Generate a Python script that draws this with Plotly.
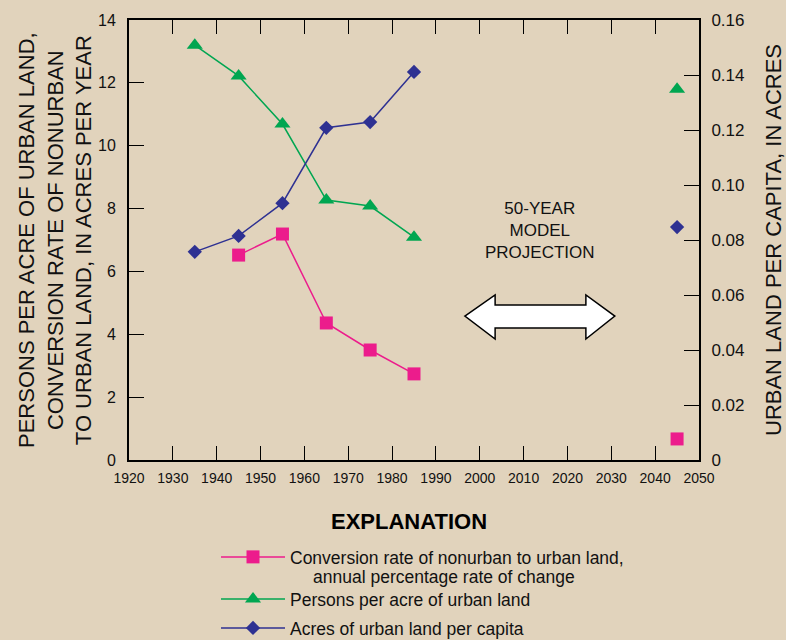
import plotly.graph_objects as go

# ---- data ----
years = [1935, 1945, 1955, 1965, 1975, 1985]
proj_year = [2045]
conversion_rate = [None, 6.52, 7.19, 4.36, 3.50, 2.74]
conversion_proj = [0.67]
persons_per_acre = [13.2, 12.22, 10.69, 8.27, 8.08, 7.09]
persons_proj = [11.8]
acres_per_capita = [0.0757, 0.0815, 0.0934, 0.1208, 0.1229, 0.1411]
acres_proj = [0.0847]

x_ticks = list(range(1920, 2051, 10))
left_ticks = [0, 2, 4, 6, 8, 10, 12, 14]
right_ticks = [0, 0.02, 0.04, 0.06, 0.08, 0.10, 0.12, 0.14, 0.16]
right_labels = ["0", "0.02", "0.04", "0.06", "0.08", "0.10", "0.12", "0.14", "0.16"]

PINK = "#EC1C8C"
GREEN = "#00A651"
BLUE = "#2E3192"
BG = "#E1D3BC"
FONT = "Liberation Sans, Arial, sans-serif"
W, H = 786, 640
L, R, T, B = 129, 87, 20, 180
PW, PH = W - L - R, H - T - B


def px(xp):
    return (xp - L) / PW


def py(yp):
    return (H - B - yp) / PH


fig = go.Figure()

fig.add_trace(go.Scatter(
    x=years, y=conversion_rate, mode="lines+markers",
    name="Conversion rate of nonurban to urban land,",
    line=dict(color=PINK, width=1.5),
    marker=dict(symbol="square", size=13, color=PINK),
    legend="legend"))
fig.add_trace(go.Scatter(
    x=proj_year, y=conversion_proj, mode="markers", showlegend=False,
    marker=dict(symbol="square", size=13, color=PINK)))

fig.add_trace(go.Scatter(
    x=years, y=persons_per_acre, mode="lines+markers",
    name="Persons per acre of urban land",
    line=dict(color=GREEN, width=1.5),
    marker=dict(symbol="triangle-up", size=14, color=GREEN),
    legend="legend2"))
fig.add_trace(go.Scatter(
    x=proj_year, y=persons_proj, mode="markers", showlegend=False,
    marker=dict(symbol="triangle-up", size=14, color=GREEN)))

fig.add_trace(go.Scatter(
    x=years, y=acres_per_capita, mode="lines+markers", yaxis="y2",
    name="Acres of urban land per capita",
    line=dict(color=BLUE, width=1.5),
    marker=dict(symbol="diamond", size=11, color=BLUE),
    legend="legend3"))
fig.add_trace(go.Scatter(
    x=proj_year, y=acres_proj, mode="markers", yaxis="y2", showlegend=False,
    marker=dict(symbol="diamond", size=11, color=BLUE)))

# double-headed arrow (projection period)
arrow_path = ("M 1996.6,4.58 L 2003.5,5.25 L 2003.5,4.93 L 2024.2,4.93 "
              "L 2024.2,5.25 L 2030.8,4.58 L 2024.2,3.85 L 2024.2,4.20 "
              "L 2003.5,4.20 L 2003.5,3.85 Z")
fig.add_shape(type="path", path=arrow_path, xref="x", yref="y",
              fillcolor="white", line=dict(color="black", width=1.5))

fig.add_annotation(x=2013.7, y=7.29, xref="x", yref="y",
                   text="50-YEAR<br>MODEL<br>PROJECTION", showarrow=False,
                   font=dict(family=FONT, size=17, color="#111"))

# axis titles
fig.add_annotation(x=px(55), y=0.5, xref="paper", yref="paper", textangle=-90,
                   xanchor="center", yanchor="middle",
                   text="PERSONS PER ACRE OF URBAN LAND,<br>CONVERSION RATE OF NONURBAN<br>TO URBAN LAND, IN ACRES PER YEAR",
                   showarrow=False, font=dict(family=FONT, size=22, color="#111"))
fig.add_annotation(x=px(773), y=0.5, xref="paper", yref="paper", textangle=-90,
                   xanchor="center", yanchor="middle",
                   text="URBAN LAND PER CAPITA, IN ACRES",
                   showarrow=False, font=dict(family=FONT, size=22, color="#111"))

fig.add_annotation(x=px(409), y=py(521), xref="paper", yref="paper",
                   xanchor="center", yanchor="middle",
                   text="<b>EXPLANATION</b>", showarrow=False,
                   font=dict(family=FONT, size=22, color="black"))

# second line of the first legend entry
fig.add_annotation(x=px(311), y=py(577), xref="paper", yref="paper",
                   xanchor="left", yanchor="middle",
                   text="annual percentage rate of change", showarrow=False,
                   font=dict(family=FONT, size=17.5, color="#111"))


def leg(ypix):
    return dict(x=216 / W, y=1 - ypix / H, xref="container", yref="container",
                xanchor="left", yanchor="middle", bgcolor="rgba(0,0,0,0)",
                font=dict(family=FONT, size=17.5, color="#111"), itemwidth=64)


fig.update_layout(
    width=W, height=H,
    paper_bgcolor=BG, plot_bgcolor=BG,
    margin=dict(l=L, r=R, t=T, b=B, autoexpand=False),
    font=dict(family=FONT, size=15, color="#111"),
    showlegend=True,
    legend=leg(557), legend2=leg(599), legend3=leg(628),
    xaxis=dict(range=[1920, 2050], tickvals=x_ticks, ticks="inside", ticklen=14,
               tickwidth=1.2, tickcolor="black", showline=True, linecolor="black",
               linewidth=2, mirror="ticks", showgrid=False, zeroline=False,
               ticklabelstandoff=4,
               tickfont=dict(family=FONT, size=14)),
    yaxis=dict(range=[0, 14], tickvals=left_ticks, ticks="inside", ticklen=15,
               tickwidth=1.2, tickcolor="black", showline=True, linecolor="black",
               linewidth=2, showgrid=False, zeroline=False, ticklabelstandoff=8,
               tickfont=dict(family=FONT, size=16)),
    yaxis2=dict(range=[0, 0.16], tickvals=right_ticks, ticktext=right_labels,
                overlaying="y", side="right", ticks="inside", ticklen=15,
                tickwidth=1.2, tickcolor="black", showline=True, linecolor="black",
                linewidth=2, showgrid=False, zeroline=False, ticklabelstandoff=7,
                tickfont=dict(family=FONT, size=17)),
)

fig.write_html("out.html", config={"displayModeBar": False},
               post_script="document.body.style.margin='0';")
